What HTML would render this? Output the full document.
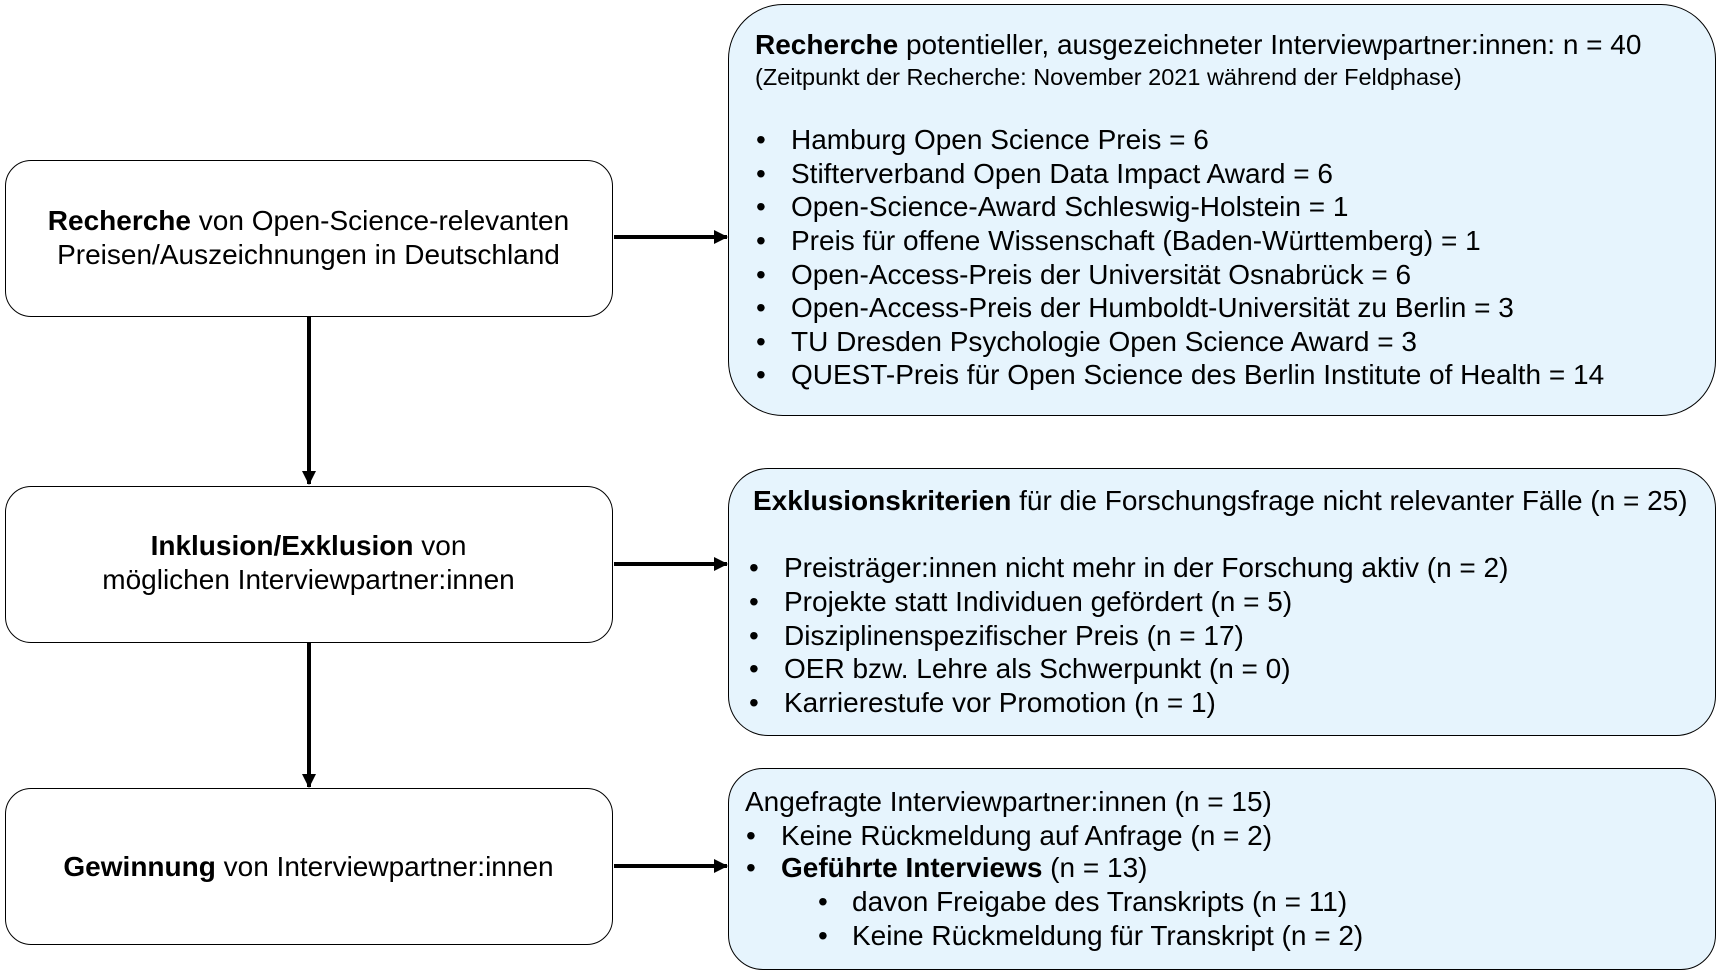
<!DOCTYPE html>
<html><head><meta charset="utf-8"><style>
body{margin:0;width:1719px;height:974px;background:#fff;position:relative;overflow:hidden;font-family:"Liberation Sans",Arial,sans-serif;color:#000}
.b{position:absolute;border:1.5px solid #000;box-sizing:border-box}
.l{background:#fff;border-radius:26px}
.r{background:#e6f4fd}
.t{position:absolute;font-size:28px;line-height:34px;white-space:nowrap}
.c{text-align:center;left:5px;width:607px}
.s{font-size:23.5px}
</style></head><body>
<div class="b l" style="left:5px;top:160px;width:608px;height:157px"></div>
<div class="b l" style="left:5px;top:486px;width:608px;height:157px"></div>
<div class="b l" style="left:5px;top:788px;width:608px;height:157px"></div>
<div class="b r" style="left:728px;top:4px;width:988px;height:412px;border-radius:55px"></div>
<div class="b r" style="left:728px;top:468px;width:988px;height:268px;border-radius:40px"></div>
<div class="b r" style="left:728px;top:768px;width:988px;height:202px;border-radius:35px"></div>
<svg style="position:absolute;left:0;top:0" width="1719" height="974">
<defs><marker id="a" markerWidth="14" markerHeight="14" refX="13" refY="7" orient="auto" markerUnits="userSpaceOnUse"><path d="M0,0L14,7L0,14z" fill="#000"/></marker></defs>
<g stroke="#000" stroke-width="4">
<line x1="614" y1="237" x2="727" y2="237" marker-end="url(#a)"/>
<line x1="614" y1="564" x2="727" y2="564" marker-end="url(#a)"/>
<line x1="614" y1="866" x2="727" y2="866" marker-end="url(#a)"/>
<line x1="309" y1="317" x2="309" y2="484" marker-end="url(#a)"/>
<line x1="309" y1="643" x2="309" y2="787" marker-end="url(#a)"/>
</g></svg>
<div class="t c" style="top:204px"><b>Recherche</b> von Open-Science-relevanten</div>
<div class="t c" style="top:238px">Preisen/Auszeichnungen in Deutschland</div>
<div class="t c" style="top:529px"><b>Inklusion/Exklusion</b> von</div>
<div class="t c" style="top:563px">möglichen Interviewpartner:innen</div>
<div class="t c" style="top:850px"><b>Gewinnung</b> von Interviewpartner:innen</div>

<div class="t" style="left:755px;top:28px"><b>Recherche</b> potentieller, ausgezeichneter Interviewpartner:innen: n = 40</div>
<div class="t s" style="left:755px;top:60px">(Zeitpunkt der Recherche: November 2021 während der Feldphase)</div>
<div class="t" style="left:756px;top:123px">•</div><div class="t" style="left:791px;top:123px">Hamburg Open Science Preis = 6</div>
<div class="t" style="left:756px;top:157px">•</div><div class="t" style="left:791px;top:157px">Stifterverband Open Data Impact Award = 6</div>
<div class="t" style="left:756px;top:190px">•</div><div class="t" style="left:791px;top:190px">Open-Science-Award Schleswig-Holstein = 1</div>
<div class="t" style="left:756px;top:224px">•</div><div class="t" style="left:791px;top:224px">Preis für offene Wissenschaft (Baden-Württemberg) = 1</div>
<div class="t" style="left:756px;top:258px">•</div><div class="t" style="left:791px;top:258px">Open-Access-Preis der Universität Osnabrück = 6</div>
<div class="t" style="left:756px;top:291px">•</div><div class="t" style="left:791px;top:291px">Open-Access-Preis der Humboldt-Universität zu Berlin = 3</div>
<div class="t" style="left:756px;top:325px">•</div><div class="t" style="left:791px;top:325px">TU Dresden Psychologie Open Science Award = 3</div>
<div class="t" style="left:756px;top:358px">•</div><div class="t" style="left:791px;top:358px">QUEST-Preis für Open Science des Berlin Institute of Health = 14</div>

<div class="t" style="left:753px;top:484px"><b>Exklusionskriterien</b> für die Forschungsfrage nicht relevanter Fälle (n = 25)</div>
<div class="t" style="left:749px;top:551px">•</div><div class="t" style="left:784px;top:551px">Preisträger:innen nicht mehr in der Forschung aktiv (n = 2)</div>
<div class="t" style="left:749px;top:585px">•</div><div class="t" style="left:784px;top:585px">Projekte statt Individuen gefördert (n = 5)</div>
<div class="t" style="left:749px;top:619px">•</div><div class="t" style="left:784px;top:619px">Disziplinenspezifischer Preis (n = 17)</div>
<div class="t" style="left:749px;top:652px">•</div><div class="t" style="left:784px;top:652px">OER bzw. Lehre als Schwerpunkt (n = 0)</div>
<div class="t" style="left:749px;top:686px">•</div><div class="t" style="left:784px;top:686px">Karrierestufe vor Promotion (n = 1)</div>

<div class="t" style="left:745px;top:785px">Angefragte Interviewpartner:innen (n = 15)</div>
<div class="t" style="left:746px;top:819px">•</div><div class="t" style="left:781px;top:819px">Keine Rückmeldung auf Anfrage (n = 2)</div>
<div class="t" style="left:746px;top:851px">•</div><div class="t" style="left:781px;top:851px"><b>Geführte Interviews</b> (n = 13)</div>
<div class="t" style="left:818px;top:885px">•</div><div class="t" style="left:852px;top:885px">davon Freigabe des Transkripts (n = 11)</div>
<div class="t" style="left:818px;top:919px">•</div><div class="t" style="left:852px;top:919px">Keine Rückmeldung für Transkript (n = 2)</div>
</body></html>
